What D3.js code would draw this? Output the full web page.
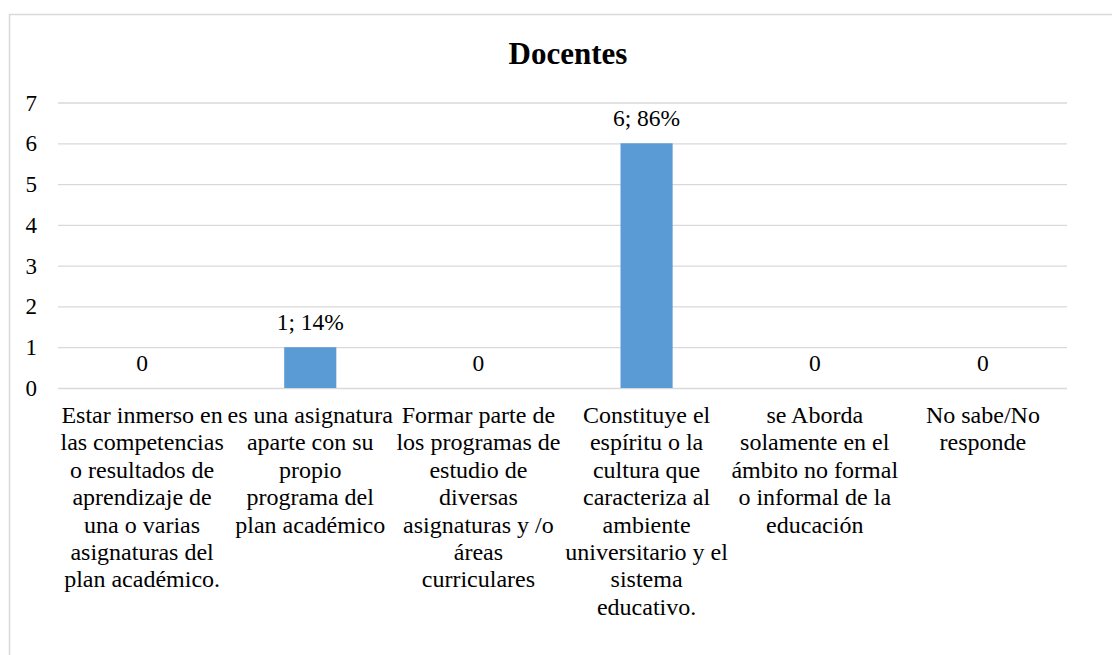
<!DOCTYPE html>
<meta charset="utf-8">
<style>
body { margin: 0; background: #fff; }
text { font-family: 'Liberation Serif', 'Times New Roman', Times, serif; fill: #000; }
.grid line { stroke: #d9d9d9; stroke-width: 1.3; }
.grid path { display: none; }
.bar { fill: #5b9bd5; }
</style>
<svg width="1112" height="655"></svg>
<script src="https://d3js.org/d3.v7.min.js"></script>
<script>

var categories = [
  "Estar inmerso en\nlas competencias\no resultados de\naprendizaje de\nuna o varias\nasignaturas del\nplan académico.",
  "es una asignatura\naparte con su\npropio\nprograma del\nplan académico",
  "Formar parte de\nlos programas de\nestudio de\ndiversas\nasignaturas y /o\náreas\ncurriculares",
  "Constituye el\nespíritu o la\ncultura que\ncaracteriza al\nambiente\nuniversitario y el\nsistema\neducativo.",
  "se Aborda\nsolamente en el\námbito no formal\no informal de la\neducación",
  "No sabe/No\nresponde"
];
var values = [0, 1, 0, 6, 0, 0];
var yTicks = [0, 1, 2, 3, 4, 5, 6, 7];
var title = "Docentes";

var svg = d3.select("svg"),
    margin = {top: 102.5, right: 45, bottom: 267, left: 58},
    width = +svg.attr("width") - margin.left - margin.right,
    height = +svg.attr("height") - margin.top - margin.bottom;

// outer frame, cut off at right and bottom
svg.append("rect")
    .attr("x", 9.5).attr("y", 14.5)
    .attr("width", 1200).attr("height", 800)
    .attr("fill", "none")
    .attr("stroke", "#d9d9d9")
    .attr("stroke-width", 1.5);

svg.append("text")
    .attr("x", 568).attr("y", 64)
    .attr("text-anchor", "middle")
    .attr("font-weight", "bold")
    .attr("font-size", 31)
    .text(title);

var x = d3.scaleBand().domain(categories).range([0, width]).paddingInner(0.69).paddingOuter(0.345),
    xc = d3.scaleBand().domain(categories).range([0, width]),
    y = d3.scaleLinear().domain([0, 7]).range([height, 0]);

var g = svg.append("g")
    .attr("transform", "translate(" + margin.left + "," + margin.top + ")");

g.append("g")
    .attr("class", "grid")
    .call(d3.axisLeft(y).tickValues(yTicks).tickSize(-width).tickFormat(""));

g.selectAll(".ylab")
    .data(yTicks)
    .enter().append("text")
    .attr("class", "ylab")
    .attr("x", -21)
    .attr("y", function(d) { return y(d); })
    .attr("dy", "0.35em")
    .attr("text-anchor", "end")
    .attr("font-size", 23)
    .text(function(d) { return d; });

g.selectAll(".bar")
    .data(values)
    .enter().append("rect")
    .attr("class", "bar")
    .attr("x", function(d, i) { return x(categories[i]); })
    .attr("y", function(d) { return y(d); })
    .attr("width", x.bandwidth())
    .attr("height", function(d) { return height - y(d); });

var total = d3.sum(values);
g.selectAll(".vlab")
    .data(values)
    .enter().append("text")
    .attr("class", "vlab")
    .attr("x", function(d, i) { return xc(categories[i]) + xc.bandwidth() / 2; })
    .attr("y", function(d) { return y(d) - 17; })
    .attr("text-anchor", "middle")
    .attr("font-size", 23.5)
    .text(function(d) { return d === 0 ? "0" : d + "; " + Math.round(d / total * 100) + "%"; });

var cl = g.selectAll(".clab")
    .data(categories)
    .enter().append("text")
    .attr("class", "clab")
    .attr("text-anchor", "middle")
    .attr("font-size", 24)
    .attr("transform", function(d) { return "translate(" + (xc(d) + xc.bandwidth() / 2) + "," + (height + 35) + ")"; });

cl.selectAll("tspan")
    .data(function(d) { return d.split("\n"); })
    .enter().append("tspan")
    .attr("x", 0)
    .attr("y", function(d, i) { return i * 27.4; })
    .text(function(d) { return d; });

</script>
